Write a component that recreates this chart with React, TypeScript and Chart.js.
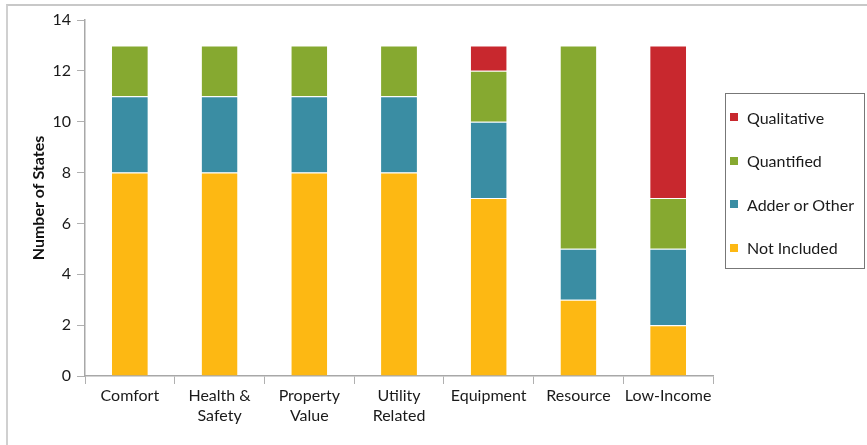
import React, { useEffect, useRef } from 'react';
import { Chart, registerables } from 'chart.js';
Chart.register(...registerables);

const categories: (string | string[])[] = [
  'Comfort',
  ['Health &', 'Safety'],
  ['Property', 'Value'],
  ['Utility', 'Related'],
  'Equipment',
  'Resource',
  'Low-Income',
];
const notIncluded = [8, 8, 8, 8, 7, 3, 2];
const adderOrOther = [3, 3, 3, 3, 3, 2, 3];
const quantified = [2, 2, 2, 2, 2, 8, 2];
const qualitative = [0, 0, 0, 0, 1, 0, 6];
const yMin = 0;
const yMax = 14;
const yStep = 2;
const yTitle = 'Number of States';

const seriesNames = ['Not Included', 'Adder or Other', 'Quantified', 'Qualitative'];
const seriesColors = ['#FDB813', '#3A8DA3', '#86A930', '#C8282E'];
const seriesData = [notIncluded, adderOrOther, quantified, qualitative];

const FONT = "'Lato', 'Noto Sans', sans-serif";

export default function App() {
  const canvasRef = useRef<HTMLCanvasElement | null>(null);

  useEffect(() => {
    document.body.style.margin = '0';
    const canvas = canvasRef.current;
    if (!canvas) return;
    const chart = new Chart(canvas, {
      type: 'bar',
      data: {
        labels: categories,
        datasets: seriesNames.map((name, i) => ({
          label: name,
          data: seriesData[i],
          backgroundColor: seriesColors[i],
          borderColor: '#ffffff',
          borderWidth: { top: 1, bottom: 0, left: 0, right: 0 },
          borderSkipped: false,
          barPercentage: 0.4,
          categoryPercentage: 1,
        })),
      },
      options: {
        animation: false,
        responsive: false,
        maintainAspectRatio: false,
        layout: { padding: { left: 0, top: 20, right: 154, bottom: 9 } },
        plugins: {
          legend: { display: false },
          tooltip: { enabled: false },
        },
        scales: {
          x: {
            stacked: true,
            afterFit: (scale: any) => {
              scale.height = 60;
            },
            grid: {
              drawOnChartArea: false,
              drawTicks: true,
              tickLength: 8,
              color: '#b0b0b0',
              offset: true,
            },
            border: { display: true, color: '#a8a8a8', width: 1.5 },
            ticks: {
              color: '#1a1a1a',
              font: { family: FONT, size: 16, lineHeight: 1.25 },
              padding: 2,
              maxRotation: 0,
              autoSkip: false,
            },
          },
          y: {
            stacked: true,
            min: yMin,
            max: yMax,
            afterFit: (scale: any) => {
              scale.width = 85;
            },
            grid: {
              drawOnChartArea: false,
              drawTicks: true,
              tickLength: 8,
              color: '#b0b0b0',
            },
            border: { display: true, color: '#a8a8a8', width: 1.5 },
            ticks: {
              stepSize: yStep,
              color: '#1a1a1a',
              font: { family: FONT, size: 16 },
              padding: 6,
            },
            title: {
              display: true,
              text: yTitle,
              color: '#111',
              font: { family: FONT, size: 16, weight: 'bold' },
              padding: { top: 29, bottom: 0 },
            },
          },
        },
      },
    });
    return () => chart.destroy();
  }, []);

  const legendOrder = [3, 2, 1, 0];

  return (
    <div style={{ position: 'relative', width: 867, height: 445, overflow: 'hidden', background: '#fff' }}>
      <div
        style={{
          position: 'absolute',
          left: 6,
          top: 4,
          width: 900,
          height: 500,
          borderLeft: '2px solid #d0d0d0',
          borderTop: '2px solid #c8c8c8',
          boxSizing: 'border-box',
        }}
      />
      <canvas ref={canvasRef} width={867} height={445} style={{ position: 'absolute', left: 0, top: 0 }} />
      <div
        style={{
          position: 'absolute',
          left: 725,
          top: 93,
          width: 140,
          height: 176,
          border: '1.5px solid #777',
          boxSizing: 'border-box',
          fontFamily: FONT,
          fontSize: 16,
          color: '#1a1a1a',
        }}
      >
        {legendOrder.map((idx, k) => (
          <div
            key={seriesNames[idx]}
            style={{
              position: 'absolute',
              left: 4,
              top: 23 + k * 43.5 - 10,
              height: 20,
              display: 'flex',
              alignItems: 'center',
              whiteSpace: 'nowrap',
            }}
          >
            <span
              style={{
                display: 'inline-block',
                width: 8,
                height: 8,
                background: seriesColors[idx],
                marginRight: 9,
              }}
            />
            <span>{seriesNames[idx]}</span>
          </div>
        ))}
      </div>
    </div>
  );
}
